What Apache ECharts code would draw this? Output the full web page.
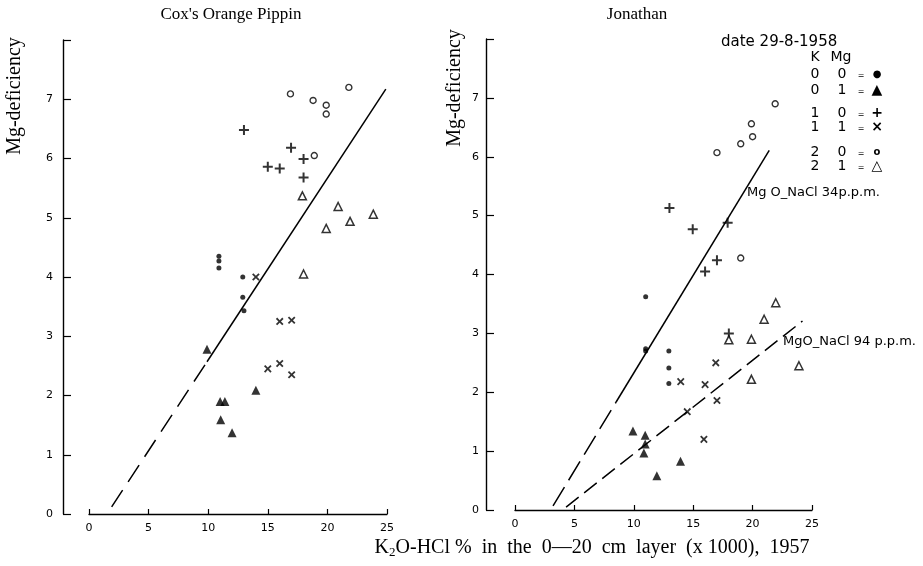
<!DOCTYPE html>
<html><head><meta charset="utf-8">
<script src="https://cdn.jsdelivr.net/npm/echarts@6/dist/echarts.min.js"></script>
<style>html,body{margin:0;padding:0;background:#fff}#c{width:923px;height:566px}</style>
</head><body><div id="c"></div>
<script>
// ---- data ----
const xMin = 0, xMax = 25, xStep = 5;
const yMin = 0, yMax = 8, yStep = 1;

// Cox's Orange Pippin  (x = K2O-HCl, y = Mg-deficiency)
const coxK0Mg0 = [[10.9,4.35],[10.9,4.27],[10.9,4.15],[12.9,4.0],[12.9,3.66],[13.0,3.43]];
const coxK0Mg1 = [[9.9,2.78],[11.0,1.9],[11.4,1.9],[11.05,1.59],[12.0,1.37],[14.0,2.09]];
const coxK1Mg0 = [[13.0,6.48],[16.95,6.18],[18.0,5.99],[15.0,5.86],[16.0,5.83],[18.0,5.68]];
const coxK1Mg1 = [[14.0,4.0],[16.0,3.25],[17.0,3.27],[15.0,2.45],[16.0,2.54],[17.0,2.35]];
const coxK2Mg0 = [[16.9,7.09],[18.8,6.98],[19.9,6.9],[19.9,6.75],[21.8,7.2],[18.9,6.05]];
const coxK2Mg1 = [[17.9,5.37],[20.9,5.19],[21.9,4.94],[19.9,4.82],[18.0,4.05],[23.85,5.06]];
const coxLineDashed = [[1.9,0.12],[9.9,2.57]];
const coxLineSolid = [[9.9,2.57],[24.9,7.17]];

// Jonathan
const jonK0Mg0 = [[11.0,3.62],[11.0,2.74],[11.0,2.70],[12.95,2.70],[12.95,2.41],[12.95,2.15]];
const jonK0Mg1 = [[9.93,1.34],[10.96,1.27],[10.96,1.12],[10.85,0.97],[11.94,0.58],[13.93,0.83]];
const jonK1Mg0 = [[13.0,5.13],[14.96,4.77],[17.9,4.88],[17.0,4.24],[16.0,4.05],[18.0,3.0]];
const jonK1Mg1 = [[13.95,2.18],[16.0,2.13],[16.9,2.5],[17.0,1.86],[14.5,1.67],[15.9,1.2]];
const jonK2Mg0 = [[21.9,6.9],[19.9,6.56],[20.0,6.34],[19.0,6.22],[17.0,6.07],[19.0,4.28]];
const jonK2Mg1 = [[18.0,2.89],[19.9,2.9],[20.97,3.24],[21.95,3.52],[19.9,2.22],[23.9,2.45]];
const jon34Dashed = [[3.2,0.07],[8.5,1.83]];
const jon34Solid = [[8.5,1.83],[21.4,6.11]];
const jon94Dashed = [[4.3,0.05],[24.2,3.21]];

const legendRows = [
  ['0','0','●'],['0','1','▲'],['1','0','+'],['1','1','×'],['2','0','o'],['2','1','△']
];

// ---- styles ----
const PLUS = 'path://M4,0H6V4H10V6H6V10H4V6H0V4H4Z';
const SANS = '"DejaVu Sans"';
const SERIF = '"Liberation Serif"';
const sym = {
  k0mg0: {symbol:'circle', symbolSize:5, itemStyle:{color:'#000'}},
  k0mg1: {symbol:'triangle', symbolSize:9, itemStyle:{color:'#000'}},
  k1mg0: {symbol:PLUS, symbolSize:10, itemStyle:{color:'#000'}},
  k1mg1: {symbol:PLUS, symbolSize:9, symbolRotate:45, itemStyle:{color:'#000'}},
  k2mg0: {symbol:'circle', symbolSize:6, itemStyle:{color:'#fff', borderColor:'#000', borderWidth:1.4}},
  k2mg1: {symbol:'triangle', symbolSize:8, itemStyle:{color:'#fff', borderColor:'#000', borderWidth:1.5}}
};

function xAx(i){
  return {gridIndex:i, type:'value', min:xMin, max:xMax, interval:xStep,
    axisLine:{show:true, onZero:false, lineStyle:{color:'#000', width:1.4}},
    axisTick:{show:true, inside:true, length:5, lineStyle:{color:'#000', width:1.2}},
    axisLabel:{color:'#000', fontSize:11, fontFamily:SANS, margin:9},
    splitLine:{show:false}};
}
function yAx(i, off, margin){
  return {gridIndex:i, type:'value', min:yMin, max:yMax, interval:yStep, offset:off,
    axisLine:{show:true, onZero:false, lineStyle:{color:'#000', width:1.4}},
    axisTick:{show:true, inside:true, length:8, lineStyle:{color:'#000', width:1.2}},
    axisLabel:{color:'#000', fontSize:11, fontFamily:SANS, margin:margin,
      formatter: v => v === yMax ? '' : String(v)},
    splitLine:{show:false}};
}
function sc(data, s, gi){
  return Object.assign({type:'scatter', data:data, xAxisIndex:gi, yAxisIndex:gi, z:3, silent:true}, s);
}
function ln(data, gi, dash){
  return {type:'line', data:data, xAxisIndex:gi, yAxisIndex:gi, showSymbol:false, silent:true, z:2,
    lineStyle:{color:'#000', width:1.5, type: dash || 'solid'}};
}

// legend graphics
const legendG = [];
legendG.push({type:'text', x:721, y:42, style:{text:'date 29-8-1958', fontSize:15, fontFamily:SANS, fill:'#000', align:'left', verticalAlign:'middle'}});
legendG.push({type:'text', x:815, y:57, style:{text:'K', fontSize:14, fontFamily:SANS, fill:'#000', align:'center', verticalAlign:'middle'}});
legendG.push({type:'text', x:841, y:57, style:{text:'Mg', fontSize:14, fontFamily:SANS, fill:'#000', align:'center', verticalAlign:'middle'}});
const rowY = [74, 90, 113, 127, 152, 166];
legendRows.forEach((r, i) => {
  const y = rowY[i];
  legendG.push({type:'text', x:815, y:y, style:{text:r[0], fontSize:14, fontFamily:SANS, fill:'#000', align:'center', verticalAlign:'middle'}});
  legendG.push({type:'text', x:842, y:y, style:{text:r[1], fontSize:14, fontFamily:SANS, fill:'#000', align:'center', verticalAlign:'middle'}});
  legendG.push({type:'text', x:861, y:y+2, style:{text:'=', fontSize:8, fontFamily:SANS, fill:'#000', align:'center', verticalAlign:'middle'}});
  legendG.push({type:'text', x:877, y:y, style:{text:r[2], fontSize:(r[2]==='●'||r[2]==='o')?10:14, fontWeight:'bold', fontFamily:SANS, fill:'#000', align:'center', verticalAlign:'middle'}});
});

const option = {
  animation:false,
  backgroundColor:'#fff',
  grid:[
    {left:89, top:40, width:298, height:474},
    {left:515, top:39, width:297, height:471}
  ],
  xAxis:[xAx(0), xAx(1)],
  yAxis:[yAx(0, 26, 10), yAx(1, 29, 7)],
  series:[
    ln(coxLineDashed, 0, [20, 10]), ln(coxLineSolid, 0),
    sc(coxK0Mg0, sym.k0mg0, 0), sc(coxK0Mg1, sym.k0mg1, 0), sc(coxK1Mg0, sym.k1mg0, 0),
    sc(coxK1Mg1, sym.k1mg1, 0), sc(coxK2Mg0, sym.k2mg0, 0), sc(coxK2Mg1, sym.k2mg1, 0),
    ln(jon34Dashed, 1, [22, 8]), ln(jon34Solid, 1), ln(jon94Dashed, 1, [16, 7]),
    sc(jonK0Mg0, sym.k0mg0, 1), sc(jonK0Mg1, sym.k0mg1, 1), sc(jonK1Mg0, sym.k1mg0, 1),
    sc(jonK1Mg1, sym.k1mg1, 1), sc(jonK2Mg0, sym.k2mg0, 1), sc(jonK2Mg1, sym.k2mg1, 1)
  ],
  graphic:[
    {type:'text', x:231, y:15, style:{text:"Cox's Orange Pippin", fontSize:17, fontFamily:SERIF, fill:'#000', align:'center', verticalAlign:'middle'}},
    {type:'text', x:637, y:15, style:{text:'Jonathan', fontSize:17, fontFamily:SERIF, fill:'#000', align:'center', verticalAlign:'middle'}},
    {type:'text', x:15, y:96, rotation:Math.PI/2, style:{text:'Mg-deficiency', fontSize:20, fontFamily:SERIF, fill:'#000', align:'center', verticalAlign:'middle'}},
    {type:'text', x:455, y:88, rotation:Math.PI/2, style:{text:'Mg-deficiency', fontSize:20, fontFamily:SERIF, fill:'#000', align:'center', verticalAlign:'middle'}},
    {type:'text', x:592, y:548, style:{text:'K{sub|2}O-HCl %  in  the  0\u201420  cm  layer  (x 1000),  1957', fontSize:20, fontFamily:SERIF, fill:'#000', align:'center', verticalAlign:'middle',
      rich:{sub:{fontSize:13, fontFamily:SERIF, padding:[10,0,0,0]}}}},
    {type:'text', x:747, y:193, style:{text:'Mg O_NaCl 34p.p.m.', fontSize:13, fontFamily:SANS, fill:'#000', align:'left', verticalAlign:'middle'}},
    {type:'text', x:783, y:342, style:{text:'MgO_NaCl 94 p.p.m.', fontSize:13, fontFamily:SANS, fill:'#000', align:'left', verticalAlign:'middle'}}
  ].concat(legendG)
};
const chart = echarts.init(document.getElementById('c'), null, {renderer:'canvas'});
chart.setOption(option);
</script></body></html>
